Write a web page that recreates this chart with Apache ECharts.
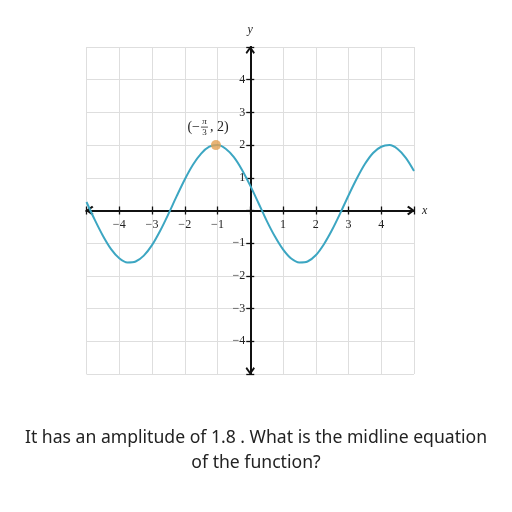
<!DOCTYPE html>
<html>
<head>
<meta charset="utf-8">
<script src="https://cdn.jsdelivr.net/npm/echarts@6/dist/echarts.min.js"></script>
<style>html,body{margin:0;padding:0;background:#fff}#c{width:512px;height:512px}</style>
</head>
<body>
<div id="c"></div>
<script>
// Curve samples
const xs = [-5,-4.75,-4.5,-4.25,-4,-3.75,-3.5,-3.25,-3,-2.75,-2.5,-2.25,-2,-1.75,-1.5,-1.25,-1,-0.75,-0.5,-0.25,0,0.25,0.5,0.75,1,1.25,1.5,1.75,2,2.25,2.5,2.75,3,3.25,3.5,3.75,4,4.25,4.5,4.75,5];
const ys = [0.26,-0.28,-0.77,-1.18,-1.46,-1.59,-1.56,-1.38,-1.06,-0.62,-0.11,0.43,0.95,1.40,1.74,1.95,2.00,1.89,1.63,1.24,0.76,0.23,-0.31,-0.79,-1.19,-1.47,-1.59,-1.56,-1.37,-1.03,-0.59,-0.08,0.46,0.97,1.42,1.76,1.95,2.00,1.88,1.61,1.21];
const peakPoint = [-1.047, 2];
const axisMin = -5, axisMax = 5, axisStep = 1;
const questionText = 'It has an amplitude of 1.8 . What is the midline equation\nof the function?';

const curve = xs.map((x, i) => [x, ys[i]]);
const chevron = 'path://M0,7 L5,0 L10,7 L8.6,8.6 L5,3.6 L1.4,8.6 Z';
const serif = 'Liberation Serif';
const fmt = v => (v === 0 || Math.abs(v) === 5) ? '' : String(v).replace('-', '\u2212');

const gridLeft = 86.5, gridRight = 98, gridTop = 47, gridBottom = 138;
const plotW = 512 - gridLeft - gridRight, plotH = 512 - gridTop - gridBottom;
// shift axes from the grid edge to the zero crossing
const xShift = -plotH * (0 - axisMin) / (axisMax - axisMin);
const yShift = -plotW * (0 - axisMin) / (axisMax - axisMin);

function axisBase(extra) {
  return Object.assign({
    type: 'value', min: axisMin, max: axisMax, interval: axisStep,
    axisLine: { show: true, onZero: false, lineStyle: { color: '#111', width: 2 } },
    axisTick: { show: true, length: 4, lineStyle: { color: '#111', width: 1.3 } },
    splitLine: { show: false },
    axisLabel: { show: false }
  }, extra);
}

const arrowLine = { show: true, onZero: false, symbol: [chevron, chevron], symbolSize: [12, 8], symbolOffset: [3, -3], lineStyle: { color: '#111', width: 2 } };

const chart = echarts.init(document.getElementById('c'));
chart.setOption({
  animation: false,
  backgroundColor: '#fff',
  title: {
    text: questionText, left: 'center', top: 420,
    textStyle: { fontFamily: 'Noto Sans', fontSize: 17.6, fontWeight: 'normal', color: '#222', lineHeight: 25 }
  },
  grid: { left: gridLeft, right: gridRight, top: gridTop, bottom: gridBottom, containLabel: false },
  xAxis: [
    axisBase({
      position: 'bottom', offset: xShift,
      name: 'x', nameLocation: 'end', nameGap: 8,
      nameTextStyle: { fontFamily: serif, fontStyle: 'italic', fontSize: 12, color: '#222' },
      axisLine: arrowLine,
      splitLine: { show: true, lineStyle: { color: '#dedede', width: 1 } },
      axisLabel: { show: true, margin: 8, formatter: fmt, fontFamily: serif, fontSize: 12, color: '#222' }
    }),
    axisBase({ position: 'bottom', offset: xShift, axisTick: { show: true, inside: true, length: 4, lineStyle: { color: '#111', width: 1.3 } } })
  ],
  yAxis: [
    axisBase({
      position: 'left', offset: yShift,
      name: 'y', nameLocation: 'end', nameGap: 11,
      nameTextStyle: { fontFamily: serif, fontStyle: 'italic', fontSize: 12, color: '#222' },
      axisLine: arrowLine,
      splitLine: { show: true, lineStyle: { color: '#dedede', width: 1 } },
      axisLabel: { show: true, margin: 5, formatter: fmt, fontFamily: serif, fontSize: 12, color: '#222' }
    }),
    axisBase({ position: 'left', offset: yShift, axisTick: { show: true, inside: true, length: 4, lineStyle: { color: '#111', width: 1.3 } } })
  ],
  series: [
    {
      type: 'line', data: curve, xAxisIndex: 0, yAxisIndex: 0,
      smooth: 0.3, showSymbol: false, symbol: 'none',
      lineStyle: { color: '#3ca6c2', width: 2 }, z: 3
    },
    {
      type: 'scatter', data: [peakPoint], xAxisIndex: 0, yAxisIndex: 0,
      symbolSize: 10, itemStyle: { color: '#e2a052' }, z: 5
    }
  ]
});

const p = chart.convertToPixel({ gridIndex: 0 }, peakPoint);
const gx = p[0] - 12, gy = p[1] - 18;
chart.setOption({
  graphic: [{
    type: 'group', x: gx, y: gy, z: 10,
    children: [
      { type: 'text', x: -4, y: 0, style: { text: '(\u2212', font: '14px "Liberation Serif"', fill: '#222', align: 'right', verticalAlign: 'middle' } },
      { type: 'line', shape: { x1: -3, y1: 0, x2: 4, y2: 0 }, style: { stroke: '#222', lineWidth: 0.8 } },
      { type: 'text', x: 0.5, y: -0.5, style: { text: '\u03c0', font: 'italic 9px "Liberation Serif"', fill: '#222', align: 'center', verticalAlign: 'bottom' } },
      { type: 'text', x: 0.5, y: 1, style: { text: '3', font: '9px "Liberation Serif"', fill: '#222', align: 'center', verticalAlign: 'top' } },
      { type: 'text', x: 6, y: 0, style: { text: ', 2)', font: '14px "Liberation Serif"', fill: '#222', align: 'left', verticalAlign: 'middle' } }
    ]
  }]
});
</script>
</body>
</html>
